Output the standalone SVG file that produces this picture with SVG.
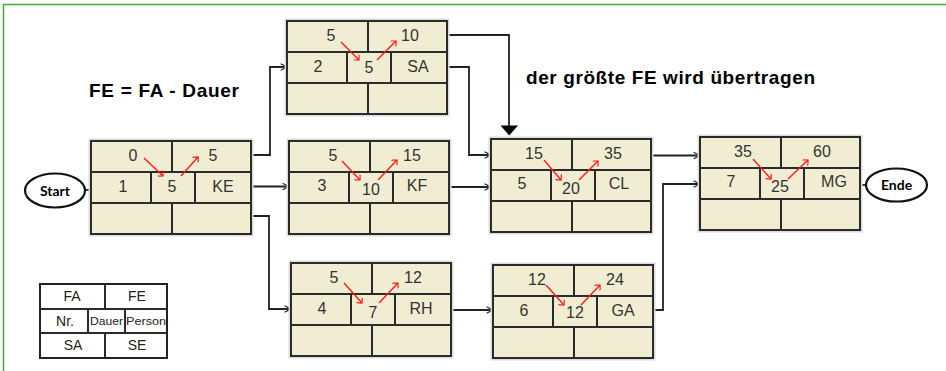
<svg xmlns="http://www.w3.org/2000/svg" width="946" height="371" viewBox="0 0 946 371">
<defs>
<style>
.box{fill:#f1edd2;stroke:#2b2b2b;stroke-width:2}
.sh{fill:none;stroke:#dcdcdc;stroke-width:2}
.div{stroke:#2b2b2b;stroke-width:2}
.t{font-family:"Liberation Sans",Arial,sans-serif;font-size:16px;fill:#333;text-anchor:middle}
.ra{fill:none;stroke:#ff1a1a;stroke-width:1.4;marker-end:url(#rh)}
.con{fill:none;stroke:#222;stroke-width:1.8}
.arr{marker-end:url(#oh)}
.lg{font-family:"Liberation Sans",Arial,sans-serif;fill:#222;text-anchor:middle}
.ell{fill:#fff;stroke:#111;stroke-width:2.2}
.et{font-family:Lato,"DejaVu Sans",sans-serif;font-weight:bold;font-size:14px;fill:#000;text-anchor:middle}
.note{font-family:"Liberation Sans",Arial,sans-serif;font-weight:bold;fill:#000}
</style>
<marker id="rh" viewBox="0 0 12 12" refX="10" refY="6" markerWidth="8" markerHeight="8" markerUnits="userSpaceOnUse" orient="auto">
<path d="M4,0 L10,6 L4,12" fill="none" stroke="#ff1a1a" stroke-width="1.8"/>
</marker>
<marker id="oh" viewBox="0 0 10 10" refX="10" refY="5" markerWidth="8" markerHeight="8" markerUnits="userSpaceOnUse" orient="auto">
<path d="M2,1 L10,5 L2,9" fill="none" stroke="#222" stroke-width="1.4"/>
</marker>
<g id="cells">
<rect class="sh" x="-1.5" y="-1.5" width="163" height="96"/>
<rect class="box" x="0" y="0" width="160" height="93"/>
<line class="div" x1="0" y1="31" x2="160" y2="31"/>
<line class="div" x1="0" y1="62" x2="160" y2="62"/>
<line class="div" x1="81" y1="0" x2="81" y2="31"/>
<line class="div" x1="81" y1="62" x2="81" y2="93"/>
<line class="div" x1="60" y1="31" x2="60" y2="62"/>
<line class="div" x1="104" y1="31" x2="104" y2="62"/>
</g>
</defs>
<rect x="0" y="0" width="946" height="371" fill="#fff"/>
<rect x="3.5" y="4.5" width="960" height="400" fill="none" stroke="#46b04e" stroke-width="1.6"/>

<text class="note" x="89" y="97" font-size="19" textLength="150" lengthAdjust="spacing">FE = FA - Dauer</text>
<text class="note" x="526" y="84" font-size="19" textLength="289" lengthAdjust="spacing">der größte FE wird übertragen</text>

<g id="connectors">
<line class="con" x1="85" y1="190" x2="91" y2="190"/>
<line class="con" x1="860" y1="185" x2="866" y2="185"/>
<polyline class="con arr" points="251,155 270,155 270,67 287,67"/>
<polyline class="con arr" points="251,186.5 289,186.5"/>
<polyline class="con arr" points="251,216 269,216 269,309 291,309"/>
<polyline class="con" points="431,35 509,35 509,127"/>
<polygon points="500.5,125.5 518,125.5 509.2,135.5" fill="#000"/>
<polyline class="con arr" points="447,67 469,67 469,155 491,155"/>
<polyline class="con arr" points="449,187 491,187"/>
<polyline class="con arr" points="650,155.5 700,155.5"/>
<polyline class="con arr" points="451,310 493,310"/>
<polyline class="con arr" points="653,310 663,310 663,184 700,184"/>
</g>

<g id="start">
<ellipse class="ell" cx="55" cy="190.5" rx="30" ry="17"/>
<text class="et" x="55" y="195.5">Start</text>
</g>
<g id="ende">
<ellipse class="ell" cx="896.5" cy="185" rx="30.5" ry="16.5"/>
<text class="et" x="896.5" y="190">Ende</text>
</g>

<g id="node-SA" transform="translate(287,21)">
<use href="#cells"/>
<text class="t" x="44" y="20">5</text><text class="t" x="123" y="20">10</text>
<text class="t" x="31" y="51">2</text><text class="t" x="82" y="52">5</text><text class="t" x="131" y="51">SA</text>
<path class="ra" d="M54,21 L72,39"/><path class="ra" d="M90,39 L109,20"/>
</g>

<g id="node-KE" transform="translate(91,141)">
<use href="#cells"/>
<text class="t" x="42" y="20">0</text><text class="t" x="122" y="20">5</text>
<text class="t" x="32" y="51">1</text><text class="t" x="81" y="51">5</text><text class="t" x="132" y="51">KE</text>
<path class="ra" d="M53,17 L72,35"/><path class="ra" d="M90,35 L107,16"/>
</g>

<g id="node-KF" transform="translate(289,141)">
<use href="#cells"/>
<text class="t" x="44" y="20">5</text><text class="t" x="123" y="20">15</text>
<text class="t" x="33" y="50">3</text><text class="t" x="82" y="54">10</text><text class="t" x="128" y="50">KF</text>
<path class="ra" d="M53,20 L71,39"/><path class="ra" d="M89,39 L108,19"/>
</g>

<g id="node-CL" transform="translate(491,139)">
<use href="#cells"/>
<text class="t" x="43" y="20">15</text><text class="t" x="122" y="20">35</text>
<text class="t" x="31" y="50">5</text><text class="t" x="80" y="55">20</text><text class="t" x="128" y="50">CL</text>
<path class="ra" d="M53,21 L70,41"/><path class="ra" d="M88,41 L107,22"/>
</g>

<g id="node-MG" transform="translate(700,137)">
<use href="#cells"/>
<text class="t" x="43" y="20">35</text><text class="t" x="122" y="20">60</text>
<text class="t" x="31" y="50">7</text><text class="t" x="80" y="55">25</text><text class="t" x="134" y="50">MG</text>
<path class="ra" d="M53,22 L71,42"/><path class="ra" d="M88,42 L108,23"/>
</g>

<g id="node-RH" transform="translate(291,263)">
<use href="#cells"/>
<text class="t" x="43" y="20">5</text><text class="t" x="122" y="20">12</text>
<text class="t" x="31" y="51">4</text><text class="t" x="82" y="55">7</text><text class="t" x="130" y="51">RH</text>
<path class="ra" d="M53,20 L71,40"/><path class="ra" d="M88,40 L107,20"/>
</g>

<g id="node-GA" transform="translate(493,265)">
<use href="#cells"/>
<text class="t" x="44" y="20">12</text><text class="t" x="122" y="20">24</text>
<text class="t" x="31" y="51">6</text><text class="t" x="82" y="53">12</text><text class="t" x="130" y="51">GA</text>
<path class="ra" d="M53,20 L71,40"/><path class="ra" d="M88,40 L107,20"/>
</g>

<g id="legend">
<rect x="40" y="284" width="127" height="74" fill="#fff" stroke="#222" stroke-width="2"/>
<line class="div" x1="40" y1="309" x2="167" y2="309"/>
<line class="div" x1="40" y1="333" x2="167" y2="333"/>
<line class="div" x1="105" y1="284" x2="105" y2="309"/>
<line class="div" x1="105" y1="333" x2="105" y2="358"/>
<line class="div" x1="88" y1="309" x2="88" y2="333"/>
<line class="div" x1="125" y1="309" x2="125" y2="333"/>
<text class="lg" x="72" y="301" font-size="14">FA</text>
<text class="lg" x="137" y="301" font-size="14">FE</text>
<text class="lg" x="65" y="325.5" font-size="14">Nr.</text>
<text class="lg" x="106.5" y="324.5" font-size="10.5" textLength="33" lengthAdjust="spacingAndGlyphs">Dauer</text>
<text class="lg" x="146" y="324.5" font-size="10.5" textLength="40" lengthAdjust="spacingAndGlyphs">Person</text>
<text class="lg" x="73" y="350" font-size="14">SA</text>
<text class="lg" x="137" y="350" font-size="14">SE</text>
</g>
</svg>
